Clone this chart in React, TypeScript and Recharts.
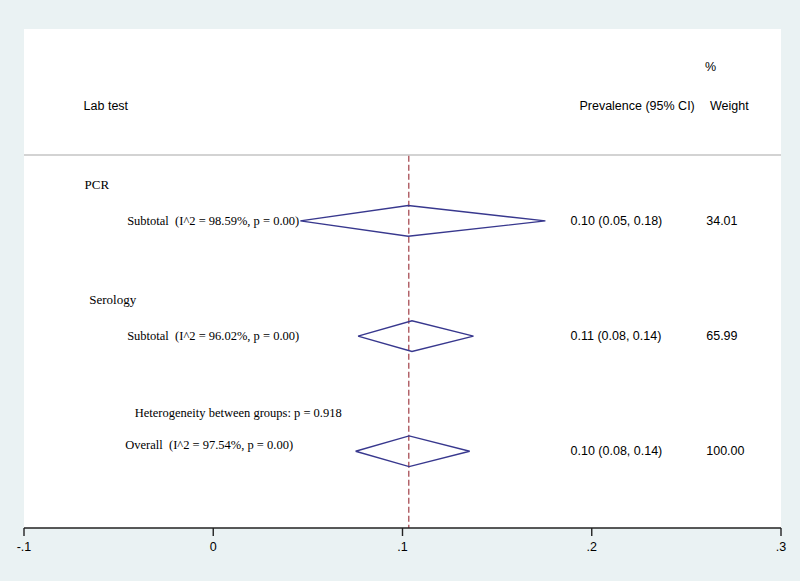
import {
  ComposedChart,
  XAxis,
  YAxis,
  Line,
  Scatter,
  ReferenceLine,
  CartesianGrid,
} from "recharts";

// values
const groups = ["PCR", "Serology"];
const summaryLabels = [
  "Subtotal  (I^2 = 98.59%, p = 0.00)",
  "Subtotal  (I^2 = 96.02%, p = 0.00)",
  "Overall  (I^2 = 97.54%, p = 0.00)",
];
const estimates = [0.103, 0.105, 0.1035];
const lowerCI = [0.046, 0.0765, 0.0752];
const upperCI = [0.1755, 0.1375, 0.1355];
const ciLabels = ["0.10 (0.05, 0.18)", "0.11 (0.08, 0.14)", "0.10 (0.08, 0.14)"];
const weights = ["34.01", "65.99", "100.00"];
const heterogeneityNote = "Heterogeneity between groups: p = 0.918";
const pooledEstimate = 0.1033;
const xTicks = [-0.1, 0, 0.1, 0.2, 0.3];

// row layout (rows counted from the top of the plot region)
const groupRows = [3, 6];
const summaryRows = [4, 7, 10];
const summaryTextRows = [4, 7, 9.85];
const hetRow = 9;
const HALF = 0.4;

const SERIF = "'Liberation Serif', 'Times New Roman', serif";
const SANS = "'Liberation Sans', Arial, sans-serif";
const NAVY = "#38388e";
const MAROON = "#b3636a";

type Lbl = { x: number; y: number; text: string };

const textShape = (font: string, size: number) => (p: any) => (
  <text
    x={p.cx}
    y={p.cy}
    fontFamily={font}
    fontSize={size}
    fill="#000"
    dominantBaseline="central"
    textAnchor="start"
    style={{ whiteSpace: "pre" }}
  >
    {p.payload.text}
  </text>
);

const headerLabels: Lbl[] = [
  { x: -0.0685, y: 1, text: "Lab test" },
  { x: 0.1935, y: 1, text: "Prevalence (95% CI)" },
  { x: 0.2625, y: 1, text: "Weight" },
  { x: 0.2598, y: 0, text: "%" },
];
const groupLabels: Lbl[] = groups.map((g, i) => ({
  x: i === 0 ? -0.068 : -0.0655,
  y: groupRows[i] + 0.05,
  text: g,
}));
const leftLabels: Lbl[] = [
  ...summaryLabels.map((t, i) => ({
    x: i === 2 ? -0.0465 : -0.0455,
    y: summaryTextRows[i],
    text: t,
  })),
  { x: -0.0415, y: hetRow, text: heterogeneityNote },
];
const rightLabels: Lbl[] = [
  ...ciLabels.map((t, i) => ({ x: 0.1888, y: summaryRows[i], text: t })),
  ...weights.map((t, i) => ({ x: 0.2605, y: summaryRows[i], text: t })),
];

const diamonds = estimates.map((est, i) => [
  { x: lowerCI[i], y: summaryRows[i] },
  { x: est, y: summaryRows[i] - HALF },
  { x: upperCI[i], y: summaryRows[i] },
  { x: est, y: summaryRows[i] + HALF },
  { x: lowerCI[i], y: summaryRows[i] },
]);

const fmtTick = (v: number) => (v === 0 ? "0" : v.toFixed(1).replace("0.", "."));

export default function App() {
  return (
    <div
      style={{
        position: "absolute",
        left: 0,
        top: 0,
        width: 800,
        height: 581,
        background: "#eaf2f3",
      }}
    >
      <ComposedChart
        width={800}
        height={581}
        margin={{ top: 29, right: 19, left: 24, bottom: 23 }}
      >
        <CartesianGrid horizontal={false} vertical={false} fill="#ffffff" />
        <XAxis
          type="number"
          dataKey="x"
          domain={[-0.1, 0.3]}
          ticks={xTicks}
          tickFormatter={fmtTick}
          height={30}
          tickSize={8}
          tickMargin={6}
          axisLine={{ stroke: "#222", strokeWidth: 1.4 }}
          tickLine={{ stroke: "#222", strokeWidth: 1.4 }}
          tick={{ fill: "#000", fontSize: 12.5, fontFamily: SANS }}
          allowDataOverflow
        />
        <YAxis type="number" dataKey="y" domain={[-1, 12]} reversed hide allowDataOverflow />
        <ReferenceLine y={2.28} stroke="#c4c4c4" strokeWidth={1.5} />
        <ReferenceLine
          segment={[
            { x: pooledEstimate, y: 2.3 },
            { x: pooledEstimate, y: 12 },
          ]}
          stroke={MAROON}
          strokeWidth={1.5}
          strokeDasharray="6 3"
        />
        {diamonds.map((d, i) => (
          <Line
            key={i}
            data={d}
            dataKey="y"
            type="linear"
            stroke={NAVY}
            strokeWidth={1.4}
            dot={false}
            activeDot={false}
            isAnimationActive={false}
          />
        ))}
        <Scatter data={headerLabels} dataKey="y" shape={textShape(SANS, 12.5)} isAnimationActive={false} />
        <Scatter data={groupLabels} dataKey="y" shape={textShape(SERIF, 13)} isAnimationActive={false} />
        <Scatter data={leftLabels} dataKey="y" shape={textShape(SERIF, 12.5)} isAnimationActive={false} />
        <Scatter data={rightLabels} dataKey="y" shape={textShape(SANS, 12.5)} isAnimationActive={false} />
      </ComposedChart>
    </div>
  );
}
